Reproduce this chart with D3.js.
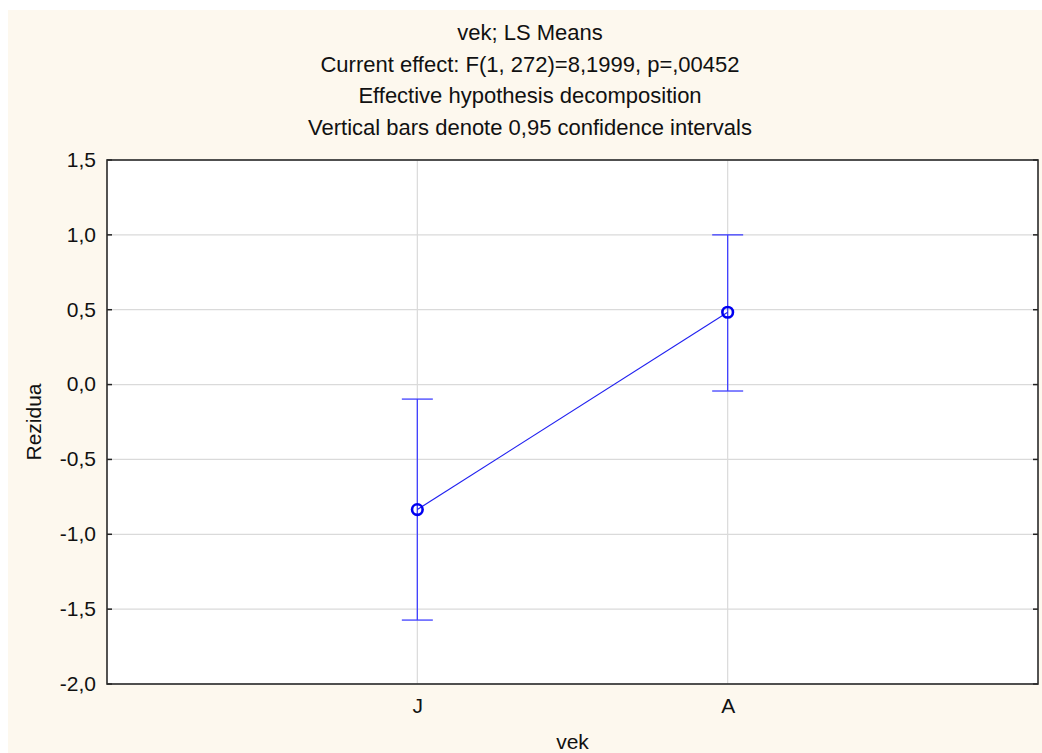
<!DOCTYPE html>
<html>
<head>
<meta charset="utf-8">
<script src="https://cdn.jsdelivr.net/npm/d3@7"></script>
<style>
  html, body { margin: 0; padding: 0; background: #fff; }
  svg text { font-family: "Liberation Sans", Arial, sans-serif; fill: #111; }
</style>
</head>
<body>
<div id="chart"></div>
<script>
// LS means of residuals by age group, with 0.95 CI
var categories = ["J", "A"];
var means      = [-0.835, 0.483];
var lower      = [-1.573, -0.043];
var upper      = [-0.097, 1.000];
var yTicks     = [1.5, 1.0, 0.5, 0.0, -0.5, -1.0, -1.5, -2.0];
var titleLines = [
  "vek; LS Means",
  "Current effect: F(1, 272)=8,1999, p=,00452",
  "Effective hypothesis decomposition",
  "Vertical bars denote 0,95 confidence intervals"
];

var W = 1042, H = 753;
var m = { left: 107, right: 4, top: 160, bottom: 69 };
var w = W - m.left - m.right,
    h = H - m.top - m.bottom;

var svg = d3.select("#chart").append("svg").attr("width", W).attr("height", H);

// cream panel
svg.append("rect").attr("x", 8).attr("y", 10).attr("width", W - 8).attr("height", H - 10)
  .attr("fill", "#fdf8ee");

// titles
svg.selectAll(".title").data(titleLines).enter()
  .append("text")
  .attr("class", "title")
  .attr("x", 530)
  .attr("y", function(d, i) { return 40 + i * 31.5; })
  .attr("text-anchor", "middle")
  .style("font-size", "22px")
  .text(function(d) { return d; });

var g = svg.append("g").attr("transform", "translate(" + m.left + "," + m.top + ")");

var x = d3.scalePoint().domain(categories).range([0, w]).padding(1);
var y = d3.scaleLinear().domain([-2, 1.5]).range([h, 0]);

g.append("rect").attr("width", w).attr("height", h).attr("fill", "#fff");

// grid
g.selectAll(".hgrid").data(yTicks).enter()
  .append("line")
  .attr("x1", 0).attr("x2", w)
  .attr("y1", function(d) { return y(d); })
  .attr("y2", function(d) { return y(d); })
  .attr("stroke", "#dadada").attr("stroke-width", 1.2);
g.selectAll(".vgrid").data(categories).enter()
  .append("line")
  .attr("x1", function(d) { return x(d); })
  .attr("x2", function(d) { return x(d); })
  .attr("y1", 0).attr("y2", h)
  .attr("stroke", "#dadada").attr("stroke-width", 1.2);

// axes
var fmt = function(d) { return d3.format(".1f")(d).replace(".", ",").replace("−", "-"); };
var yAxis = g.append("g").call(d3.axisLeft(y).tickValues(yTicks).tickSize(0).tickPadding(11).tickFormat(fmt));
yAxis.select(".domain").remove();
yAxis.selectAll("text").style("font-size", "21px").attr("dy", "0.3em");

var xAxis = g.append("g").attr("transform", "translate(0," + h + ")")
  .call(d3.axisBottom(x).tickSize(0).tickPadding(14));
xAxis.select(".domain").remove();
xAxis.selectAll("text").style("font-size", "21px");

// small inner ticks on left and right
g.selectAll(".ltick").data(yTicks).enter()
  .append("line")
  .attr("x1", 0).attr("x2", 5)
  .attr("y1", function(d) { return y(d); }).attr("y2", function(d) { return y(d); })
  .attr("stroke", "#222").attr("stroke-width", 1.5);
g.selectAll(".rtick").data(yTicks).enter()
  .append("line")
  .attr("x1", w - 5).attr("x2", w)
  .attr("y1", function(d) { return y(d); }).attr("y2", function(d) { return y(d); })
  .attr("stroke", "#222").attr("stroke-width", 1.5);

// frame
g.append("rect").attr("width", w).attr("height", h)
  .attr("fill", "none").attr("stroke", "#2a2a2a").attr("stroke-width", 1.6);

// axis titles
svg.append("text")
  .attr("transform", "translate(41," + (m.top + h / 2) + ") rotate(-90)")
  .attr("text-anchor", "middle")
  .style("font-size", "21px")
  .text("Rezidua");
svg.append("text")
  .attr("x", m.left + w / 2).attr("y", 749)
  .attr("text-anchor", "middle")
  .style("font-size", "21px")
  .text("vek");

// error bars
var rows = categories.map(function(c, i) { return { k: c, m: means[i], lo: lower[i], hi: upper[i] }; });
var bars = g.selectAll(".err").data(rows).enter().append("g");
bars.append("line")
  .attr("x1", function(d) { return x(d.k); }).attr("x2", function(d) { return x(d.k); })
  .attr("y1", function(d) { return y(d.lo); }).attr("y2", function(d) { return y(d.hi); })
  .attr("stroke", "#4040ff").attr("stroke-width", 1.3);
["lo", "hi"].forEach(function(k) {
  bars.append("line")
    .attr("x1", function(d) { return x(d.k) - 15.5; }).attr("x2", function(d) { return x(d.k) + 15.5; })
    .attr("y1", function(d) { return y(d[k]); }).attr("y2", function(d) { return y(d[k]); })
    .attr("stroke", "#4040ff").attr("stroke-width", 1.3);
});

// mean line
g.append("path").datum(rows)
  .attr("d", d3.line().x(function(d) { return x(d.k); }).y(function(d) { return y(d.m); }))
  .attr("fill", "none").attr("stroke", "#2020f0").attr("stroke-width", 1.1);

g.selectAll(".pt").data(rows).enter()
  .append("circle")
  .attr("cx", function(d) { return x(d.k); })
  .attr("cy", function(d) { return y(d.m); })
  .attr("r", 5.3)
  .attr("fill", "none").attr("stroke", "#0000f0").attr("stroke-width", 2.6);
</script>
</body>
</html>
